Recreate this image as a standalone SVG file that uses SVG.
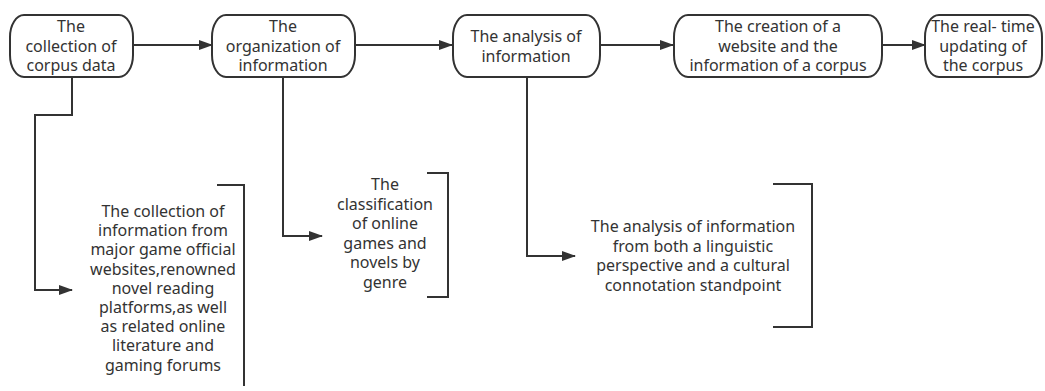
<svg xmlns="http://www.w3.org/2000/svg" width="1045" height="391" viewBox="0 0 1045 391">
<defs>
<marker id="ah" markerWidth="14" markerHeight="10" refX="13" refY="5" orient="auto" markerUnits="userSpaceOnUse">
<path d="M0,0 L14,5 L0,10 Z" fill="#333"/>
</marker>
<style>
.n{fill:#fff;stroke:#333;stroke-width:2}
.t{font-family:"Noto Sans",sans-serif;font-size:16px;fill:#333;text-anchor:middle}
.c{fill:none;stroke:#333;stroke-width:2}
.b{fill:none;stroke:#333;stroke-width:2}
</style>
</defs>
<rect width="1045" height="391" fill="#fff"/>
<g id="connectors">
<path class="c" d="M133,45 H212" marker-end="url(#ah)"/>
<path class="c" d="M355,45 H452" marker-end="url(#ah)"/>
<path class="c" d="M600,45 H673" marker-end="url(#ah)"/>
<path class="c" d="M882,45 H925" marker-end="url(#ah)"/>
<path class="c" d="M72,77 V115 H35 V290 H72" marker-end="url(#ah)"/>
<path class="c" d="M283,77 V236 H322" marker-end="url(#ah)"/>
<path class="c" d="M527,77 V256 H575" marker-end="url(#ah)"/>
</g>
<g id="node1">
<rect class="n" x="10" y="15" width="123" height="62" rx="14" ry="22"/>
<text class="t"><tspan x="71" y="32">The</tspan><tspan x="71" y="51.5">collection of</tspan><tspan x="71" y="71">corpus data</tspan></text>
</g>
<g id="node2">
<rect class="n" x="212" y="15" width="143" height="62" rx="14" ry="22"/>
<text class="t"><tspan x="283" y="32">The</tspan><tspan x="283" y="51.5">organization of</tspan><tspan x="283" y="71">information</tspan></text>
</g>
<g id="node3">
<rect class="n" x="453" y="15" width="147" height="62" rx="14" ry="22"/>
<text class="t"><tspan x="526" y="41.5">The analysis of</tspan><tspan x="526" y="61.5">information</tspan></text>
</g>
<g id="node4">
<rect class="n" x="674" y="15" width="208" height="62" rx="14" ry="22"/>
<text class="t"><tspan x="778" y="32">The creation of a</tspan><tspan x="778" y="51.5">website and the</tspan><tspan x="778" y="71">information of a corpus</tspan></text>
</g>
<g id="node5">
<rect class="n" x="925" y="15" width="117" height="62" rx="14" ry="22"/>
<text class="t"><tspan x="983" y="32">The real- time</tspan><tspan x="983" y="51.5">updating of</tspan><tspan x="983" y="71">the corpus</tspan></text>
</g>
<g id="detail1">
<path class="b" d="M217,185 H244 V386"/>
<text class="t"><tspan x="163" y="217">The collection of</tspan><tspan x="163" y="236.2">information from</tspan><tspan x="163" y="255.4">major game official</tspan><tspan x="163" y="274.6">websites,renowned</tspan><tspan x="163" y="293.8">novel reading</tspan><tspan x="163" y="313">platforms,as well</tspan><tspan x="163" y="332.2">as related online</tspan><tspan x="163" y="351.4">literature and</tspan><tspan x="163" y="370.6">gaming forums</tspan></text>
</g>
<g id="detail2">
<path class="b" d="M427,173 H448 V297 H427"/>
<text class="t"><tspan x="385" y="190">The</tspan><tspan x="385" y="209.5">classification</tspan><tspan x="385" y="229">of online</tspan><tspan x="385" y="248.5">games and</tspan><tspan x="385" y="268">novels by</tspan><tspan x="385" y="287.5">genre</tspan></text>
</g>
<g id="detail3">
<path class="b" d="M773,184 H812 V327 H773"/>
<text class="t"><tspan x="693" y="232">The analysis of information</tspan><tspan x="693" y="251.5">from both a linguistic</tspan><tspan x="693" y="271">perspective and a cultural</tspan><tspan x="693" y="290.5">connotation standpoint</tspan></text>
</g>
</svg>
